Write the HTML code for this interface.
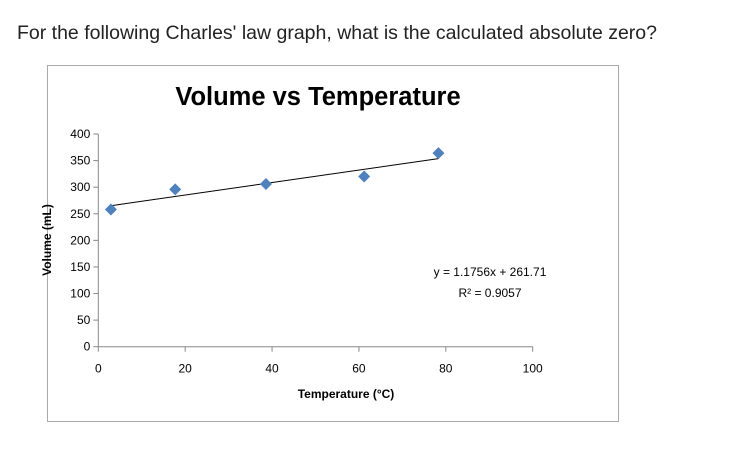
<!DOCTYPE html>
<html><head><meta charset="utf-8"><style>
body{margin:0;background:#fff;width:752px;height:461px;overflow:hidden;font-family:"Liberation Sans",sans-serif}
#q{position:absolute;left:17px;top:22px;font-size:19.5px;color:#222}
svg{position:absolute;left:0;top:0}
</style></head><body>
<div id="q">For the following Charles' law graph, what is the calculated absolute zero?</div>
<svg id="c" width="752" height="461"></svg>
<script>
const xs=[2.9,17.7,38.6,61.2,78.3];
const ys=[258,296,306,320,364];
const xTicks=[0,20,40,60,80,100];
const yTicks=[0,50,100,150,200,250,300,350,400];
const slope=1.1756, intercept=261.71;
const NS='http://www.w3.org/2000/svg';
const svg=document.getElementById('c');
const X=v=>98.3+v*4.344, Y=v=>346.7-v*0.5317;
function mk(t,a,txt){const e=document.createElementNS(NS,t);for(const k in a)e.setAttribute(k,a[k]);if(txt!==undefined)e.textContent=txt;svg.appendChild(e);return e;}
let e;
e=mk('rect',{x:47.5,y:65.5,width:571,height:356,fill:'#fff',stroke:'#aaa'});


e=mk('text',{x:318,y:105,'text-anchor':'middle','font-size':25.5,'font-weight':'bold',fill:'#000'},'Volume vs Temperature');


mk('line',{x1:X(0),y1:Y(0),x2:X(100),y2:Y(0),stroke:'#888'});
mk('line',{x1:X(0),y1:Y(0),x2:X(0),y2:Y(400),stroke:'#888'});
xTicks.forEach(t=>{mk('line',{x1:X(t),y1:Y(0),x2:X(t),y2:Y(0)+5,stroke:'#888'});
e=mk('text',{x:X(t),y:Y(0)+26,'text-anchor':'middle','font-size':12},t);

});
yTicks.forEach(t=>{mk('line',{x1:X(0)-5,y1:Y(t),x2:X(0),y2:Y(t),stroke:'#888'});
e=mk('text',{x:X(0)-8,y:Y(t)+4,'text-anchor':'end','font-size':12},t);

});
e=mk('text',{x:346,y:398,'text-anchor':'middle','font-size':12,'font-weight':'bold'},'Temperature (°C)');


e=mk('text',{x:0,y:0,'text-anchor':'middle','font-size':12,'font-weight':'bold',transform:'translate(51,240) rotate(-90)'},'Volume (mL)');


const x0=xs[0],x1=xs[xs.length-1];
e=mk('line',{x1:X(x0),y1:Y(slope*x0+intercept),x2:X(x1),y2:Y(slope*x1+intercept),stroke:'#000','stroke-width':1});


xs.forEach((v,i)=>{const cx=X(v),cy=Y(ys[i]);
e=mk('polygon',{points:`${cx},${cy-6} ${cx+6},${cy} ${cx},${cy+6} ${cx-6},${cy}`,fill:'#4f81bd'});

});
e=mk('text',{x:490,y:276,'text-anchor':'middle','font-size':12},'y = 1.1756x + 261.71');


e=mk('text',{x:490,y:297,'text-anchor':'middle','font-size':12},'R² = 0.9057');


</script>
</body></html>
